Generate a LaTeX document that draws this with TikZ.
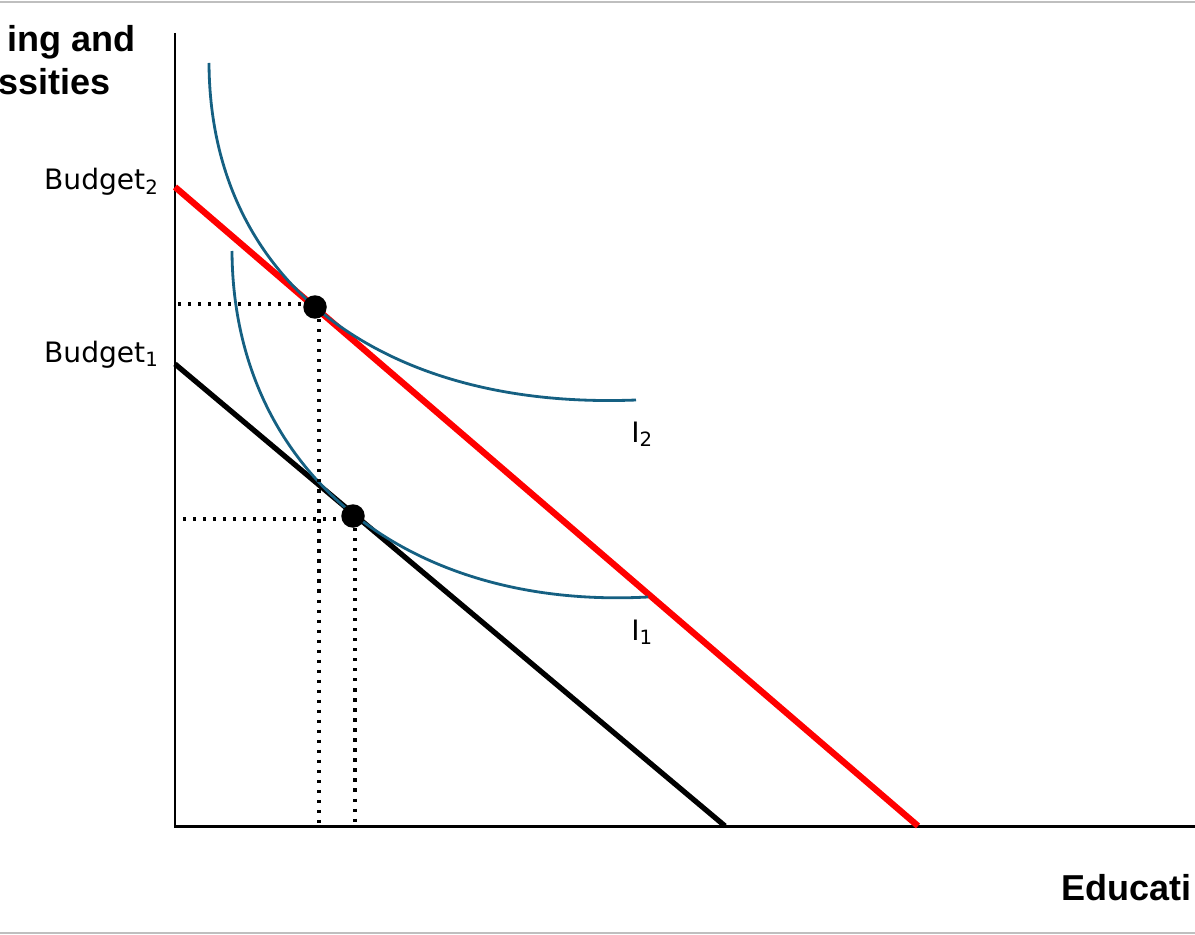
\documentclass[tikz,border=0pt]{standalone}
\usepackage{fontspec}
\setmainfont{DejaVu Sans}
\newfontfamily\axisfont{Liberation Sans}
\usepackage{xcolor}
\usetikzlibrary{positioning, calc}
\definecolor{curveblue}{HTML}{156082}
\definecolor{framegray}{HTML}{BFBFBF}

\begin{document}
\begin{tikzpicture}[x=0.02cm, y=-0.02cm]

\tikzset{
    axisline/.style={line width=1.7pt, black},
    budgetline/.style={line width=3pt, line cap=butt},
    indiff/.style={line width=1.6pt, curveblue},
    guide/.style={line width=1.8pt, dash pattern=on 1.8pt off 3.9pt},
    optdot/.style={circle, fill=black, inner sep=0pt, minimum size=0.47cm},
    budgetlabel/.style={font=\fontsize{16}{19}\selectfont, anchor=base east, inner sep=0pt},
    curvelabel/.style={font=\fontsize{16}{19}\selectfont, anchor=base west, inner sep=0pt},
    axislabel/.style={font=\axisfont\bfseries\fontsize{20.5}{24}\selectfont, inner sep=0pt}
}

\useasboundingbox (0,0) rectangle (1195,935);

% Frame lines
\draw[framegray, line width=1.3pt] (0,2) -- (1195,2);
\draw[framegray, line width=1.3pt] (0,933) -- (1195,933);

% Axes
\coordinate (origin) at (175,826);
\coordinate (ytop) at (175,33);
\coordinate (xend) at (1195,826);
\draw[axisline] (ytop) -- (origin) -- (xend);

% Axis labels
\node[axislabel, anchor=base east] (ylabA) at (136,52) {ing and};
\node[axislabel, anchor=base east] (ylabB) at (111,95) {ssities};
\node[axislabel, anchor=base west] (xlab) at (1061,900) {Educati};

% Budget lines
\coordinate (bgtwo) at (175,187);
\coordinate (endtwo) at (918,826);
\coordinate (bgone) at (175,364);
\coordinate (endone) at (725,826);
\draw[budgetline, black, line width=3pt] (bgone) -- (endone);
\draw[budgetline, red, line width=3.6pt] (bgtwo) -- (endtwo);

\node[budgetlabel] (lbtwo) at (159,190) {Budget\textsubscript{2}};
\node[budgetlabel] (lbone) at (159,362) {Budget\textsubscript{1}};

% Indifference curves
\draw[indiff] (209,63) .. controls (210,280) and (380,410) .. (636,400);
\draw[indiff] (232,251) .. controls (233,468) and (403,610) .. (648,597);

\node[curvelabel] (ltwo) at (631,442) {I\textsubscript{2}};
\node[curvelabel] (lone) at (631,640) {I\textsubscript{1}};

% Optimal points
\node[optdot] (opttwo) at (315,307) {};
\node[optdot] (optone) at (353,516) {};

% Guides to the axes
\coordinate (gtwoy) at (178,304);
\coordinate (gtwox) at (319,826);
\coordinate (goney) at (183,519);
\coordinate (gonex) at (355,826);
\draw[guide] (gtwoy) -- (gtwoy -| opttwo.west);
\draw[guide] (opttwo.south -| gtwox) -- (gtwox);
\draw[guide] (goney) -- (goney -| optone.west);
\draw[guide] (optone.south -| gonex) -- (gonex);

\end{tikzpicture}
\end{document}
